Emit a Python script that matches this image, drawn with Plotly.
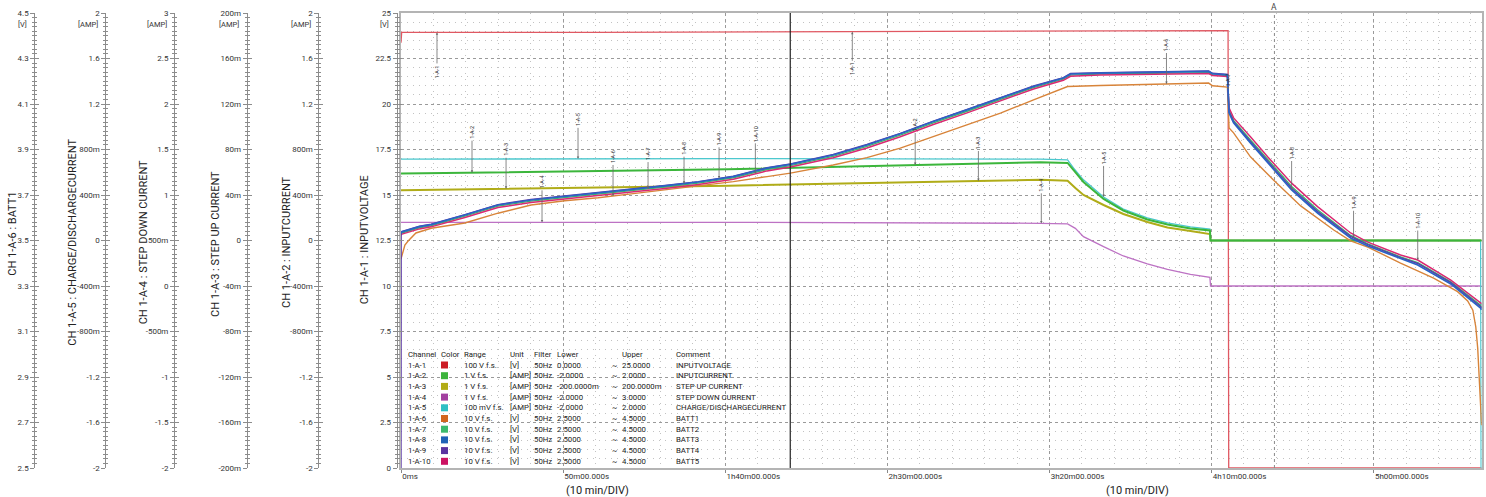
import numpy as np
import plotly.graph_objects as go

# ---------------- data ----------------
time_ticks = [0, 50, 100, 150, 200, 250, 300]
time_labels = ["0ms", "50m00.000s", "1h40m00.000s", "2h30m00.000s",
               "3h20m00.000s", "4h10m00.000s", "5h00m00.000s"]

# CH 1-A-1 INPUTVOLTAGE [V]
t_vin = [0, 0.2, 60, 120, 180, 230, 249.1, 255.1, 255.3, 333.3]
v_vin = [23.37, 23.93, 23.94, 23.96, 23.98, 24.01, 24.03, 24.03, 0.0, 0.0]

# CH 1-A-2 INPUTCURRENT [AMP]
t_iin = [0, 100.9, 197.2, 205.6, 207.4, 210.5, 216.7, 222.8, 230.2, 236.4, 243.5, 249.5, 249.7, 333.3]
v_iin = [0.588, 0.627, 0.688, 0.682, 0.621, 0.515, 0.365, 0.264, 0.185, 0.141, 0.106, 0.088, 0.0, 0.0]

# CH 1-A-3 STEP UP CURRENT [AMP]
t_iup = [0, 100.9, 197.2, 205.6, 208.0, 210.5, 216.7, 222.8, 230.2, 236.4, 243.5, 249.5, 249.7, 333.3]
v_iup = [0.0442, 0.0482, 0.0533, 0.0526, 0.0462, 0.0400, 0.0312, 0.0233, 0.0163, 0.0114, 0.0084, 0.0057, 0.0, 0.0]

# CH 1-A-4 STEP DOWN CURRENT [AMP]
t_idn = [0, 100.9, 197.2, 205.6, 208.0, 210.5, 216.7, 222.8, 230.2, 236.4, 243.5, 249.5, 249.7, 333.3]
v_idn = [0.700, 0.700, 0.689, 0.682, 0.634, 0.542, 0.432, 0.330, 0.242, 0.183, 0.128, 0.095, 0.0, 0.0]

# CH 1-A-5 CHARGE/DISCHARGECURRENT [AMP]
t_ichg = [0, 100.9, 197.2, 205.6, 207.4, 210.5, 216.7, 222.8, 230.2, 236.4, 243.5, 249.5, 249.7, 333.0, 333.15, 333.3]
v_ichg = [0.715, 0.720, 0.715, 0.709, 0.638, 0.533, 0.383, 0.277, 0.198, 0.154, 0.119, 0.101, 0.0, 0.0, -2.0, -2.0]

# CH 1-A-6 BATT1 [V]
t_b1 = [0, 1.2, 2.2, 4.6, 9.3, 19.7, 29.9, 40.1, 50.5, 60.8, 71.0, 81.4, 91.7, 102.5,
        112.9, 120.1, 133.3, 143.7, 154.0, 164.2, 174.6, 184.9, 195.1, 205.6,
        215.7, 236.4, 249.1, 250.3, 254.9, 255.4, 256.8, 262.0, 269.1, 277.5,
        287.7, 292.9, 298.2, 308.3, 318.5, 325.9, 329.0, 330.6, 331.5, 332.1,
        332.7, 333.0, 333.3]
v_b1 = [3.419, 3.480, 3.498, 3.533, 3.554, 3.577, 3.620, 3.656, 3.675, 3.688, 3.705, 3.722, 3.739, 3.759,
        3.781, 3.796, 3.832, 3.864, 3.906, 3.957, 4.008, 4.060, 4.118, 4.177,
        4.181, 4.188, 4.192, 4.180, 4.174, 3.995, 3.973, 3.868, 3.766, 3.652,
        3.546, 3.498, 3.471, 3.401, 3.335, 3.275, 3.234, 3.194, 3.121, 3.027,
        2.877, 2.776, 2.688]

# CH 1-A-7 .. 1-A-10 BATT2..BATT5 [V] (common time base)
t_bx = [0, 0.05, 5.7, 9.3, 19.7, 29.9, 40.1, 50.5, 60.8, 71.0, 81.4, 91.7, 102.5, 112.9,
        120.1, 133.3, 143.7, 154.0, 164.2, 174.6, 184.9, 195.1, 204.3, 206.5,
        215.7, 231.2, 249.1, 250.3, 254.9, 255.4, 256.8, 262.0, 267.3, 274.7,
        282.7, 292.9, 298.2, 308.3, 313.6, 323.8, 333.0, 333.3]
v_b2 = [3.526, 3.532, 3.556, 3.565, 3.607, 3.651, 3.673, 3.688, 3.703, 3.717,
        3.735, 3.752, 3.776, 3.812, 3.829, 3.870, 3.914, 3.963, 4.017, 4.068,
        4.120, 4.172, 4.209, 4.227, 4.232, 4.235, 4.238, 4.229, 4.225, 4.072,
        4.028, 3.942, 3.855, 3.737, 3.635, 3.522, 3.485, 3.428, 3.403, 3.318,
        3.216, 3.209]
v_b3 = [3.530, 3.537, 3.561, 3.570, 3.612, 3.656, 3.678, 3.693, 3.708, 3.722,
        3.740, 3.757, 3.781, 3.818, 3.835, 3.876, 3.920, 3.969, 4.023, 4.074,
        4.126, 4.177, 4.214, 4.232, 4.236, 4.239, 4.243, 4.233, 4.228, 4.061,
        4.017, 3.929, 3.841, 3.722, 3.621, 3.511, 3.476, 3.419, 3.392, 3.309,
        3.203, 3.195]
v_b4 = [2.500, 3.539, 3.563, 3.572, 3.614, 3.658, 3.680, 3.695, 3.710, 3.724,
        3.742, 3.759, 3.783, 3.820, 3.837, 3.878, 3.922, 3.971, 4.025, 4.076,
        4.128, 4.179, 4.216, 4.234, 4.238, 4.241, 4.245, 4.235, 4.230, 4.066,
        4.022, 3.935, 3.848, 3.730, 3.628, 3.518, 3.482, 3.425, 3.399, 3.315,
        3.210, 3.202]
v_b5 = [3.522, 3.527, 3.551, 3.560, 3.601, 3.645, 3.667, 3.682, 3.697, 3.711,
        3.729, 3.746, 3.769, 3.806, 3.823, 3.864, 3.907, 3.956, 4.010, 4.061,
        4.114, 4.166, 4.204, 4.222, 4.227, 4.230, 4.234, 4.225, 4.221, 4.083,
        4.039, 3.956, 3.868, 3.752, 3.649, 3.533, 3.493, 3.436, 3.414, 3.326,
        3.229, 3.222]

# axis scales: tick values and labels
vin_ticks = [0, 2.5, 5, 7.5, 10, 12.5, 15, 17.5, 20, 22.5, 25]
vin_labels = ["0", "2.5", "5", "7.5", "10", "12.5", "15", "17.5", "20", "22.5", "25"]
iin_ticks = [-2, -1.6, -1.2, -0.8, -0.4, 0, 0.4, 0.8, 1.2, 1.6, 2]
iin_labels = ["-2", "-1.6", "-1.2", "-800m", "-400m", "0", "400m", "800m", "1.2", "1.6", "2"]
iup_ticks = [-0.2, -0.16, -0.12, -0.08, -0.04, 0, 0.04, 0.08, 0.12, 0.16, 0.2]
iup_labels = ["-200m", "-160m", "-120m", "-80m", "-40m", "0", "40m", "80m", "120m", "160m", "200m"]
idn_ticks = [-2, -1.5, -1, -0.5, 0, 0.5, 1, 1.5, 2, 2.5, 3]
idn_labels = ["-2", "-1.5", "-1", "-500m", "0", "500m", "1", "1.5", "2", "2.5", "3"]
ichg_ticks = [-2, -1.6, -1.2, -0.8, -0.4, 0, 0.4, 0.8, 1.2, 1.6, 2]
ichg_labels = ["-2", "-1.6", "-1.2", "-800m", "-400m", "0", "400m", "800m", "1.2", "1.6", "2"]
batt_ticks = [2.5, 2.7, 2.9, 3.1, 3.3, 3.5, 3.7, 3.9, 4.1, 4.3, 4.5]
batt_labels = ["2.5", "2.7", "2.9", "3.1", "3.3", "3.5", "3.7", "3.9", "4.1", "4.3", "4.5"]

# legend table
channels = ["1-A-1", "1-A-2", "1-A-3", "1-A-4", "1-A-5", "1-A-6", "1-A-7", "1-A-8", "1-A-9", "1-A-10"]
ranges_fs = ["100 V f.s.", "1 V f.s.", "1 V f.s.", "1 V f.s.", "100 mV f.s.",
             "10 V f.s.", "10 V f.s.", "10 V f.s.", "10 V f.s.", "10 V f.s."]
units = ["[V]", "[AMP]", "[AMP]", "[AMP]", "[AMP]", "[V]", "[V]", "[V]", "[V]", "[V]"]
filters = ["50Hz"] * 10
lowers = ["0.0000", "-2.0000", "-200.0000m", "-2.0000", "-2.0000",
          "2.5000", "2.5000", "2.5000", "2.5000", "2.5000"]
uppers = ["25.0000", "2.0000", "200.0000m", "3.0000", "2.0000",
          "4.5000", "4.5000", "4.5000", "4.5000", "4.5000"]
comments = ["INPUTVOLTAGE", "INPUTCURRENT", "STEP UP CURRENT", "STEP DOWN CURRENT",
            "CHARGE/DISCHARGECURRENT", "BATT1", "BATT2", "BATT3", "BATT4", "BATT5"]
legend_colors = ["#cc1c24", "#3cb43c", "#b2ac16", "#a2409f", "#2ebfc4",
                 "#d2661e", "#3cba6c", "#1e62b6", "#5a32a0", "#cc1262"]
line_colors = ["#e05862", "#3cb63c", "#b0ac18", "#bd72c4", "#4cc8ce",
               "#d8843a", "#3cba6c", "#2a64c4", "#5e3aa8", "#da2a72"]

cursor_t = 120.06
marker_a_t = 269.4

flag_times = [[11.1, 139.2], [21.9, 158.6], [32.4, 178.1], [43.5, 197.5], [54.6, 216.7],
              [65.4, 236.1], [76.2, 255.1], [87.3, 274.7], [98.1, 293.8], [109.3, 313.6]]

# ---------------- layout geometry (pixels) ----------------
W, H = 1486, 497
PT, PB = 13, 468
X0, X1 = 401, 1481.7
FONT = "Roboto, Liberation Sans, sans-serif"


def px(x):
    return x / W


def py(y):
    return (PB - y) / (PB - PT)


# overlaid axes are layered by axis number: y (voltage) < y2 step down < y3 step up
# < y4 charge < y5 input current < y6 batteries
series = [(t_vin, v_vin, "y"), (t_iin, v_iin, "y5"), (t_iup, v_iup, "y3"),
          (t_idn, v_idn, "y2"), (t_ichg, v_ichg, "y4"), (t_b1, v_b1, "y6"),
          (t_bx, v_b2, "y6"), (t_bx, v_b3, "y6"), (t_bx, v_b4, "y6"), (t_bx, v_b5, "y6")]
widths = [1.3, 2.0, 2.0, 1.3, 1.3, 1.4, 1.4, 1.7, 1.4, 1.5]
draw_order = [0, 3, 2, 4, 1, 5, 6, 9, 8, 7]

fig = go.Figure()
for i in draw_order:
    t, v, ax = series[i]
    fig.add_trace(go.Scatter(x=t, y=v, mode="lines", yaxis=ax,
                             line=dict(color=line_colors[i], width=widths[i]),
                             hoverinfo="skip", showlegend=False))

# scale axes (label axis + twin for the inner half of the cross ticks)
scales = [
    ("y2", [-2, 3], idn_ticks, idn_labels, 174.0),
    ("y3", [-0.2, 0.2], iup_ticks, iup_labels, 246.7),
    ("y4", [-2, 2], ichg_ticks, ichg_labels, 105.3),
    ("y5", [-2, 2], iin_ticks, iin_labels, 318.3),
    ("y6", [2.5, 4.5], batt_ticks, batt_labels, 34.3),
    ("y7", [0, 25], vin_ticks, vin_labels, 396.7),
]
TICKC = "#8c8c8c"
layout_axes = {}
n = 7
for name, rng, tv, tt, xp in scales:
    minor_vals = list(np.linspace(rng[0], rng[1], 101))
    common = dict(range=rng, overlaying="y", anchor="free", position=px(xp), side="left",
                  tickmode="array", tickvals=tv, ticktext=tt, ticklen=4, tickwidth=1,
                  tickcolor=TICKC, showline=True, linecolor=TICKC, linewidth=1,
                  showgrid=False, zeroline=False, automargin=False, fixedrange=True)
    key = "yaxis" + name[1:]
    layout_axes[key] = dict(common, ticks="outside", showticklabels=True,
                            tickfont=dict(family=FONT, size=8, color="#333"),
                            minor=dict(ticks="outside", ticklen=2, tickcolor=TICKC,
                                       tickmode="array", tickvals=minor_vals))
    n += 1
    layout_axes["yaxis%d" % n] = dict(common, ticks="inside", showticklabels=False,
                                      minor=dict(ticks="inside", ticklen=2, tickcolor=TICKC,
                                                 tickmode="array", tickvals=minor_vals))
    fig.add_trace(go.Scatter(x=[None], y=[None], yaxis="y%d" % n, showlegend=False,
                             hoverinfo="skip"))
fig.add_trace(go.Scatter(x=[None], y=[None], yaxis="y7", showlegend=False, hoverinfo="skip"))

annotations = []
# axis titles
titles = [("CH 1-A-6 : BATT1", 11.7, 234), ("CH 1-A-5 : CHARGE/DISCHARGECURRENT", 71.7, 242),
          ("CH 1-A-4 : STEP DOWN CURRENT", 143.3, 242), ("CH 1-A-3 : STEP UP CURRENT", 215, 244),
          ("CH 1-A-2 : INPUTCURRENT", 286, 242), ("CH 1-A-1 : INPUTVOLTAGE", 364.3, 240)]
for txt, x, y in titles:
    annotations.append(dict(text=txt, x=px(x), y=py(y), xref="paper", yref="paper",
                            textangle=-90, showarrow=False, xanchor="center", yanchor="middle",
                            font=dict(family=FONT, size=11, color="#222")))
# unit labels under the top ticks
for txt, x in [("[V]", 28.5), ("[AMP]", 99.5), ("[AMP]", 168.5), ("[AMP]", 241), ("[AMP]", 312.5), ("[V]", 391)]:
    annotations.append(dict(text=txt, x=px(x), y=py(24), xref="paper", yref="paper",
                            showarrow=False, xanchor="right", yanchor="middle",
                            font=dict(family=FONT, size=7.5, color="#333")))
# "(10 min/DIV)"
for x in (597, 1137):
    annotations.append(dict(text="(10 min/DIV)", x=px(x), y=py(490), xref="paper", yref="paper",
                            showarrow=False, xanchor="center", yanchor="middle",
                            font=dict(family=FONT, size=11, color="#222")))
# marker A
annotations.append(dict(text="A", x=marker_a_t, xref="x", y=py(7), yref="paper", showarrow=False,
                        xanchor="center", yanchor="middle",
                        font=dict(family=FONT, size=8.5, color="#444")))

# channel flags
flag_offsets = [[39, 37], [-40, -40], [-39, -38], [-40, -38], [-39, -39],
                [-39, -39], [-35, -9], [-35, -37], [-39, -35], [-40, -39]]
for i, (ts, offs) in enumerate(zip(flag_times, flag_offsets)):
    t, v, ax = series[i]
    for ft, off in zip(ts, offs):
        yv = float(np.interp(ft, t, v))
        annotations.append(dict(text=channels[i], x=ft, y=yv, xref="x", yref=ax,
                                showarrow=True, ax=0, ay=off, arrowhead=2, arrowsize=0.6,
                                arrowwidth=0.8, arrowcolor="#6a6a6a", standoff=0,
                                textangle=-90, font=dict(family=FONT, size=5.5, color="#333")))

# legend table: one text per cell, rows every 10.7 px
rows_hdr = ["Channel", "Color", "Range", "Unit", "Filter", "Lower", "", "Upper", "Comment"]
col_x = [406, 439, 461.5, 508, 531.5, 554.5, 610, 620, 673.5]
col_vals = [channels, [""] * 10, ranges_fs, units, filters, lowers, ["~"] * 10, uppers, comments]
LEG_FS = 7.8
ROW0, ROWH = 354.3, 10.7
for x, hdr, vals in zip(col_x, rows_hdr, col_vals):
    for r, txt in enumerate([hdr] + vals):
        if not txt:
            continue
        annotations.append(dict(text=txt, x=px(x), y=py(ROW0 + ROWH * r), xref="paper",
                                yref="paper", showarrow=False, xanchor="left", yanchor="middle",
                                font=dict(family=FONT, size=LEG_FS, color="#222")))

shapes = []
for i, c in enumerate(legend_colors):
    yc = ROW0 + ROWH * (i + 1)
    shapes.append(dict(type="rect", xref="paper", yref="paper", x0=px(441), x1=px(448),
                       y0=py(yc + 3.5), y1=py(yc - 3.5), fillcolor=c, line=dict(width=0)))
shapes.append(dict(type="line", xref="x", yref="paper", x0=cursor_t, x1=cursor_t, y0=0, y1=1,
                   line=dict(color="#222", width=1.2)))
shapes.append(dict(type="line", xref="x", yref="paper", x0=marker_a_t, x1=marker_a_t, y0=0, y1=1,
                   line=dict(color="#8a8a8a", width=1, dash="3px,3px")))

fig.update_layout(
    width=W, height=H, margin=dict(l=0, r=0, t=PT, b=H - PB, pad=0),
    paper_bgcolor="white", plot_bgcolor="white",
    font=dict(family=FONT, size=8, color="#333"),
    xaxis=dict(domain=[px(X0), px(X1)], range=[0, 333.33], tickmode="array",
               tickvals=time_ticks, ticktext=time_labels, ticks="outside", ticklen=3,
               tickcolor="#888", ticklabelposition="outside right",
               tickfont=dict(family=FONT, size=8, color="#333"),
               showgrid=True, gridcolor="#9a9a9a", gridwidth=1, griddash="3px,3px",
               minor=dict(tickmode="linear", tick0=0, dtick=10, showgrid=True,
                          gridcolor="#c2c2c2", griddash="1px,5px"),
               showline=True, mirror=True, linecolor="#b4b4b4", linewidth=1.5,
               zeroline=False, automargin=False, fixedrange=True),
    yaxis=dict(range=[0, 25], tickmode="linear", tick0=0, dtick=2.5, showticklabels=False,
               ticks="", showgrid=True, gridcolor="#9a9a9a", gridwidth=1, griddash="3px,3px",
               minor=dict(tickmode="linear", tick0=0, dtick=0.5, showgrid=True,
                          gridcolor="#c2c2c2", griddash="1px,5px"),
               showline=True, mirror=True, linecolor="#b4b4b4", linewidth=1.5,
               zeroline=False, automargin=False, fixedrange=True),
    annotations=annotations, shapes=shapes, showlegend=False,
    **layout_axes,
)
fig.write_html("out.html", config={"displayModeBar": False},
               post_script="document.body.style.margin='0px';")
